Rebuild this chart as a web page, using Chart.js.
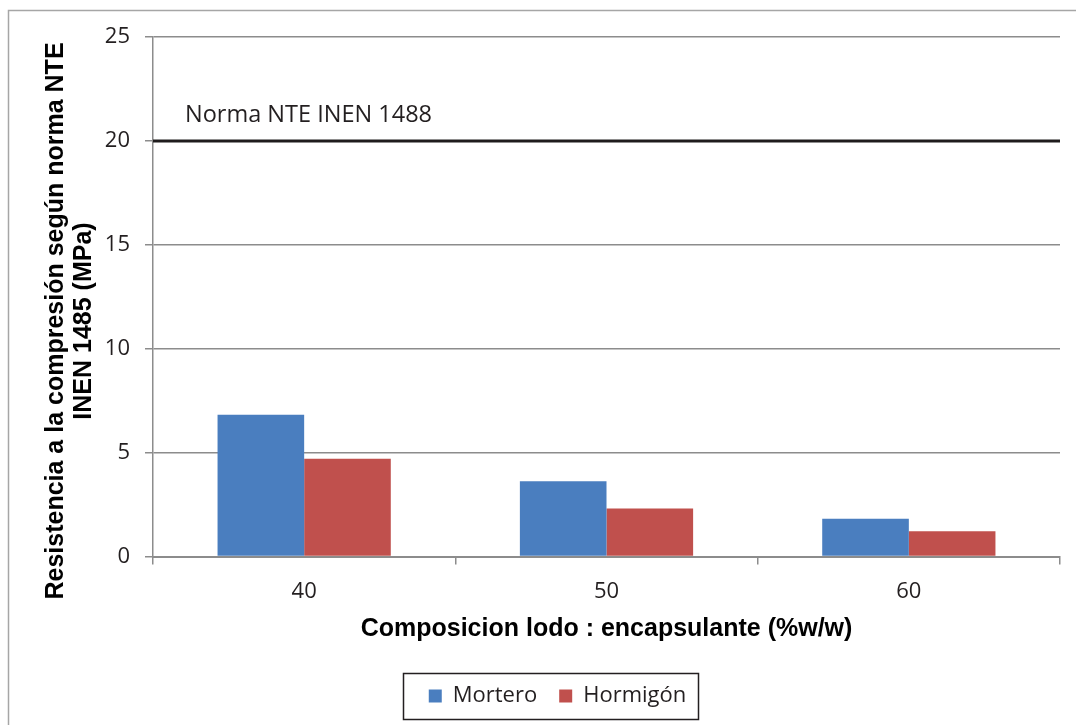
<!DOCTYPE html>
<html>
<head>
<meta charset="utf-8">
<script src="https://cdn.jsdelivr.net/npm/chart.js@4/dist/chart.umd.min.js"></script>
<style>
  html, body { margin: 0; padding: 0; background: #ffffff; }
  #wrap { width: 1076px; height: 725px; position: relative; }
</style>
</head>
<body>
<div id="wrap"><canvas id="chart" width="1076" height="725"></canvas></div>
<script>
// Compressive strength by sludge : encapsulant composition
const categories = ['40', '50', '60'];
const mortero = [6.82, 3.62, 1.82];
const hormigon = [4.71, 2.32, 1.22];
const yTicks = [0, 5, 10, 15, 20, 25];
const seriesNames = ['Mortero', 'Hormigón'];
const normaValue = 20;
const normaLabel = 'Norma NTE INEN 1488';
const xTitle = 'Composicion lodo : encapsulante (%w/w)';
const yTitleLines = ['Resistencia a la compresión según norma NTE', 'INEN 1485 (MPa)'];

const TICK_FONT = { family: "'Open Sans', sans-serif", size: 22 };
const GRID = '#8c8c8c';
const PLOT_LEFT = 153;
const PAD_LEFT = 55;

// Outer frame, norm reference line, rotated y title and legend box
const decorations = {
  id: 'decorations',
  beforeDraw(chart) {
    const ctx = chart.ctx;
    ctx.save();
    ctx.strokeStyle = '#a6a6a6';
    ctx.lineWidth = 1.5;
    ctx.beginPath();
    ctx.moveTo(8.5, 725);
    ctx.lineTo(8.5, 10.5);
    ctx.lineTo(1076, 10.5);
    ctx.stroke();
    ctx.restore();
  },
  afterDatasetsDraw(chart) {
    const { ctx, chartArea, scales } = chart;
    const y = scales.y.getPixelForValue(normaValue);
    ctx.save();
    ctx.strokeStyle = '#1f1c1d';
    ctx.lineWidth = 3;
    ctx.beginPath();
    ctx.moveTo(chartArea.left, y);
    ctx.lineTo(chartArea.right, y);
    ctx.stroke();
    ctx.fillStyle = '#231f20';
    ctx.font = "23.5px 'Open Sans', sans-serif";
    ctx.textAlign = 'left';
    ctx.textBaseline = 'alphabetic';
    ctx.fillText(normaLabel, chartArea.left + 32, y - 19);
    ctx.restore();
  },
  afterDraw(chart) {
    const ctx = chart.ctx;
    // y axis title, two centred lines
    ctx.save();
    ctx.translate(71, 321);
    ctx.rotate(-Math.PI / 2);
    ctx.fillStyle = '#000000';
    ctx.font = "bold 25px 'Liberation Sans', Arial, sans-serif";
    ctx.textAlign = 'center';
    ctx.textBaseline = 'middle';
    ctx.fillText(yTitleLines[0], 0, -15);
    ctx.fillText(yTitleLines[1], 0, 13);
    ctx.restore();
    // frame around the legend
    const boxes = chart.legend.legendHitBoxes;
    if (boxes && boxes.length) {
      const left = Math.min(...boxes.map(b => b.left)) - 26;
      const right = Math.max(...boxes.map(b => b.left + b.width)) + 12;
      const cy = boxes[0].top + boxes[0].height / 2;
      ctx.save();
      ctx.strokeStyle = '#231f20';
      ctx.lineWidth = 1.5;
      ctx.strokeRect(Math.round(left) + 0.5, Math.round(cy - 23) + 0.5, Math.round(right - left), 46);
      ctx.restore();
    }
  }
};

new Chart(document.getElementById('chart'), {
  type: 'bar',
  data: {
    labels: categories,
    datasets: [
      { label: seriesNames[0], data: mortero, backgroundColor: '#4a7ebf', borderWidth: 0,
        categoryPercentage: 0.573, barPercentage: 1 },
      { label: seriesNames[1], data: hormigon, backgroundColor: '#c0504d', borderWidth: 0,
        categoryPercentage: 0.573, barPercentage: 1 }
    ]
  },
  options: {
    responsive: false,
    animation: false,
    layout: { padding: { left: PAD_LEFT, right: 16, top: 37, bottom: 8 } },
    plugins: {
      tooltip: { enabled: false },
      title: { display: false },
      legend: {
        display: true,
        position: 'bottom',
        labels: {
          boxWidth: 13,
          boxHeight: 13,
          padding: 22,
          color: '#231f20',
          font: { family: "'Open Sans', sans-serif", size: 22 }
        }
      }
    },
    scales: {
      x: {
        grid: { display: true, drawOnChartArea: false, drawTicks: true, tickLength: 8, color: GRID, lineWidth: 1.5, offset: true },
        border: { display: true, color: GRID, width: 2 },
        ticks: { color: '#231f20', font: TICK_FONT, padding: 14 },
        title: {
          display: true,
          text: xTitle,
          color: '#000000',
          font: { family: "'Liberation Sans', Arial, sans-serif", size: 25, weight: 'bold', lineHeight: 0.8 },
          padding: { top: 0, bottom: 24 }
        }
      },
      y: {
        min: 0,
        max: 25,
        afterBuildTicks(scale) { scale.ticks = yTicks.map(v => ({ value: v })); },
        afterFit(scale) { scale.width = PLOT_LEFT - PAD_LEFT; },
        grid: { color: GRID, lineWidth: 1.5, tickLength: 8, drawTicks: true },
        border: { display: true, color: GRID, width: 1.5 },
        ticks: { color: '#231f20', font: TICK_FONT, padding: 15 }
      }
    }
  },
  plugins: [decorations]
});
</script>
</body>
</html>
